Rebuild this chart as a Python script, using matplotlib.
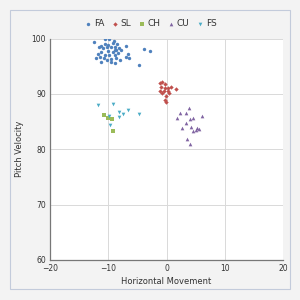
import matplotlib.pyplot as plt
from matplotlib.patches import Rectangle

# pitch data: horizontal movement (x) and velocity (y)
fa_x = [-12.5, -10.5, -9.8, -9.2, -8.5, -6.9, -10.6, -11.2, -11.6, -10.9, -10.2, -9.5,
        -8.9, -8.2, -7.8, -8.6, -9.2, -10.1, -11.2, -12.1, -11.4, -10.6, -9.8, -8.9,
        -8.4, -6.6, -6.5, -8.6, -9.5, -10.3, -11.3, -8.8, -7.9, -3.8, -2.9, -4.8,
        -7.0, -10.0, -9.5, -8.8, -11.8, -9.0, -10.8]
fa_y = [99.3, 99.9, 99.9, 99.2, 99.0, 98.7, 99.0, 98.6, 98.4, 98.2, 98.4, 98.5,
        98.5, 98.2, 97.9, 97.9, 97.6, 97.7, 97.6, 96.4, 96.7, 97.0, 97.0, 97.0,
        97.3, 97.2, 96.4, 96.4, 95.8, 96.2, 95.8, 95.6, 96.2, 98.1, 97.8, 95.2,
        96.7, 98.9, 96.3, 98.0, 97.2, 99.6, 96.5]
sl_x = [-1.2, -0.8, -0.3, -0.9, -0.2, 0.2, 0.7, 1.7, -1.2, -0.5, 0.3, -0.8, -0.1, 0.5, -0.2, -0.1]
sl_y = [91.9, 92.2, 91.7, 91.3, 91.1, 91.1, 91.3, 90.9, 90.5, 90.5, 90.5, 90.1, 89.7, 90.1, 88.9, 88.5]
ch_x = [-10.8, -10.1, -9.4, -9.1]
ch_y = [86.2, 85.6, 85.4, 83.3]
cu_x = [3.8, 3.3, 2.4, 1.8, 4.0, 4.6, 6.1, 3.4, 4.2, 2.7, 5.2, 5.5, 5.0, 4.6, 3.5, 4.0]
cu_y = [87.4, 86.5, 86.5, 85.6, 85.4, 85.6, 86.0, 84.7, 84.1, 83.9, 83.9, 83.6, 83.5, 83.3, 81.8, 80.9]
fs_x = [-11.7, -9.1, -8.2, -7.5, -6.6, -4.8, -8.2, -9.8, -9.7]
fs_y = [88.0, 88.2, 86.8, 86.3, 87.1, 86.3, 85.9, 86.0, 84.4]

fig = plt.figure(figsize=(3, 3), dpi=100)
fig.patch.set_facecolor('#f3f3f3')
fig.patches.append(Rectangle((10/300, 11/300), 280/300, 279/300, transform=fig.transFigure,
                             fill=False, edgecolor='#c3cbdb', linewidth=0.8))

ax = fig.add_axes([50/300, 40/300, 233/300, 221.5/300])
ax.set_facecolor('white')

ax.scatter(fa_x, fa_y, s=6, marker='o', color='#4f81bd', linewidths=0, label='FA', zorder=3)
ax.scatter(sl_x, sl_y, s=5, marker='D', color='#c0504d', linewidths=0, label='SL', zorder=3)
ax.scatter(ch_x, ch_y, s=7, marker='s', color='#9bbb59', linewidths=0, label='CH', zorder=3)
ax.scatter(cu_x, cu_y, s=7, marker='^', color='#8064a2', linewidths=0, label='CU', zorder=3)
ax.scatter(fs_x, fs_y, s=7, marker='v', color='#4bacc6', linewidths=0, label='FS', zorder=3)

ax.set_xlim(-20, 20)
ax.set_ylim(60, 100)
ax.set_xticks([-20, -10, 0, 10, 20])
ax.set_yticks([60, 70, 80, 90, 100])
ax.grid(True, color='#d9d9d9', linewidth=0.7)
ax.set_axisbelow(True)
ax.tick_params(length=0, labelsize=5.5, colors='#333333', pad=3)

for side in ['top', 'right']:
    ax.spines[side].set_visible(False)
for side in ['left', 'bottom']:
    ax.spines[side].set_color('#777777')
    ax.spines[side].set_linewidth(0.9)

ax.set_xlabel('Horizontal Movement', fontsize=6, color='#333333', labelpad=3)
ax.set_ylabel('Pitch Velocity', fontsize=6, color='#333333', labelpad=5)

fig.legend(loc='center', bbox_to_anchor=(0.5, 1 - 24/300), ncol=5, frameon=False,
           fontsize=6.5, handletextpad=0.1, columnspacing=0.6, handlelength=1.1,
           labelcolor='#333333')

fig.savefig('out.png', dpi=100, facecolor=fig.get_facecolor())
